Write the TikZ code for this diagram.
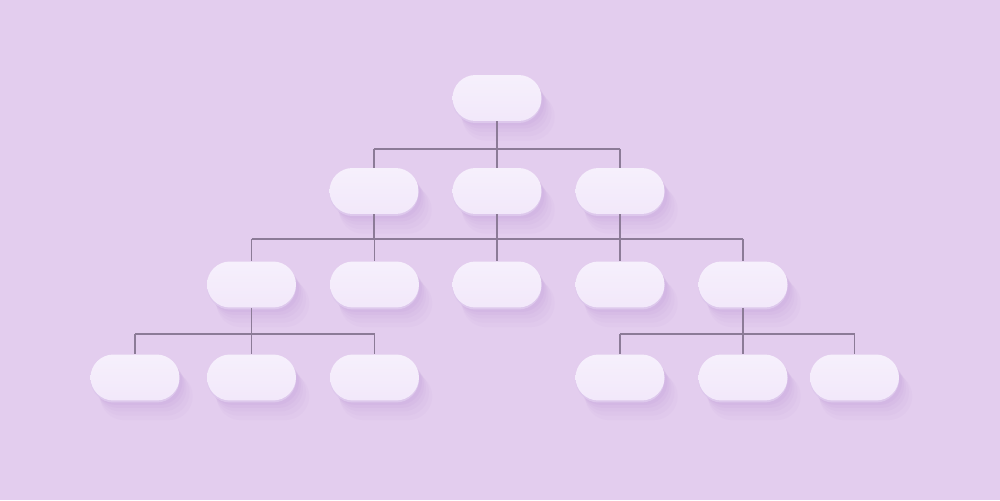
\documentclass[tikz,border=0pt]{standalone}
\usepackage{tikz}
\usetikzlibrary{shadows}

\definecolor{bgfill}{HTML}{E3CDEE}
\definecolor{pilltop}{HTML}{F6F0FC}
\definecolor{pillbot}{HTML}{F2E8FA}
\definecolor{pilledge}{HTML}{DDC8EC}
\definecolor{shadowc}{HTML}{B48DD0}
\definecolor{linkc}{HTML}{8C7B97}

\tikzset{
    pill/.style={rectangle, rounded corners=0.46cm, minimum width=1.78cm,
        minimum height=0.92cm, inner sep=0pt, top color=pilltop, bottom color=pillbot,
        general shadow={fill=shadowc, opacity=0.05, shadow xshift=0.22cm, shadow yshift=-0.36cm, shadow scale=1.04},
        general shadow={fill=shadowc, opacity=0.06, shadow xshift=0.18cm, shadow yshift=-0.29cm, shadow scale=1.02},
        general shadow={fill=shadowc, opacity=0.07, shadow xshift=0.14cm, shadow yshift=-0.22cm},
        general shadow={fill=shadowc, opacity=0.08, shadow xshift=0.10cm, shadow yshift=-0.15cm},
        general shadow={fill=shadowc, opacity=0.09, shadow xshift=0.06cm, shadow yshift=-0.09cm},
        general shadow={fill=pilledge, shadow yshift=-0.04cm}},
    link/.style={draw=linkc, line width=1pt}
}

\begin{document}
\begin{tikzpicture}[x=0.02cm, y=-0.02cm]
\fill[bgfill] (0,0) rectangle (1000,500);
\useasboundingbox (0,0) rectangle (1000,500);
% Pills
\node[pill] (root) at (497,98){};
\node[pill] (a1) at (374,191){};
\node[pill] (a2) at (497,191){};
\node[pill] (a3) at (620,191){};
\node[pill] (b1) at (251.5,284.5){};
\node[pill] (b2) at (374.5,284.5){};
\node[pill] (b3) at (497,284.5){};
\node[pill] (b4) at (620,284.5){};
\node[pill] (b5) at (743,284.5){};
\node[pill] (c1) at (135,377.5){};
\node[pill] (c2) at (251.5,377.5){};
\node[pill] (c3) at (374.5,377.5){};
\node[pill] (c4) at (620,377.5){};
\node[pill] (c5) at (743,377.5){};
\node[pill] (c6) at (854.5,377.5){};
% Level 0 to 1
\draw[link] (root.south) -- ++(0,28) coordinate (busa);
\draw[link] (busa -| a1.north) -- (busa -| a3.north);
\foreach \n in {a1,a2,a3}
    \draw[link] (busa -| \n.north) -- (\n.north);
% Level 1 to 2
\draw[link] (a2.south) -- ++(0,25) coordinate (busb);
\draw[link] (a1.south) -- (a1.south |- busb);
\draw[link] (a3.south) -- (a3.south |- busb);
\draw[link] (busb -| b1.north) -- (busb -| b5.north);
\foreach \n in {b1,b2,b3,b4,b5}
    \draw[link] (busb -| \n.north) -- (\n.north);
% Level 2 to 3
\draw[link] (b1.south) -- ++(0,26) coordinate (busc);
\draw[link] (busc -| c1.north) -- (busc -| c3.north);
\foreach \n in {c1,c2,c3}
    \draw[link] (busc -| \n.north) -- (\n.north);
\draw[link] (b5.south) -- ++(0,26) coordinate (busd);
\draw[link] (busd -| c4.north) -- (busd -| c6.north);
\foreach \n in {c4,c5,c6}
    \draw[link] (busd -| \n.north) -- (\n.north);
\end{tikzpicture}
\end{document}
